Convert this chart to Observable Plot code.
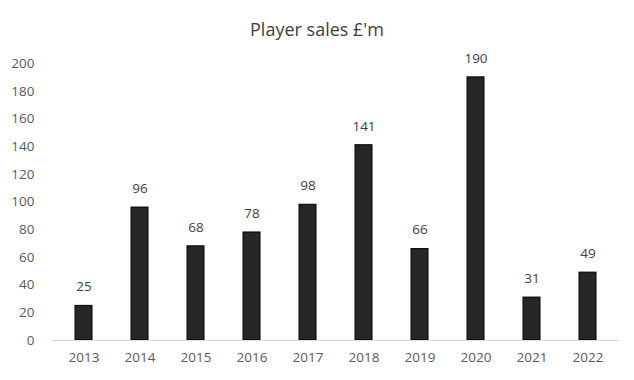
<!DOCTYPE html>
<html><head><meta charset="utf-8">
<script src="https://cdn.jsdelivr.net/npm/d3@7"></script>
<script src="https://cdn.jsdelivr.net/npm/@observablehq/plot@0.6"></script>
<style>
body{margin:0;background:#fff;font-family:"Open Sans",sans-serif;}
#title{height:48px;line-height:58px;text-align:center;font-size:18px;color:#404040;}
</style></head>
<body><div id="title">Player sales £'m</div><div id="chart"></div>
<script>
const years = ["2013","2014","2015","2016","2017","2018","2019","2020","2021","2022"];
const sales = [25,96,68,78,98,141,66,190,31,49];
const yTicks = [0,20,40,60,80,100,120,140,160,180,200];
const data = years.map((y,i)=>({year:y,value:sales[i]}));
const chart = Plot.plot({
  width:634, height:332,
  marginTop:15, marginBottom:40, marginLeft:52, marginRight:15,
  style:{fontFamily:"Open Sans, sans-serif", fontSize:"13.5px", color:"#595959", background:"#fff"},
  x:{domain:years, paddingInner:0.7, paddingOuter:0.35, label:null, tickSize:0, tickPadding:12},
  y:{domain:[0,200], ticks:yTicks, label:null, tickSize:0, tickPadding:18},
  marks:[
    Plot.barY(data,{x:"year",y:"value",fill:"#262626",stroke:"#000",strokeWidth:1}),
    Plot.ruleY([0],{stroke:"#d9d9d9",strokeWidth:1.2}),
    Plot.text(data,{x:"year",y:"value",text:d=>String(d.value),dy:-19,fill:"#404040",fontSize:13.5})
  ]
});
document.getElementById("chart").appendChild(chart);
</script></body></html>
